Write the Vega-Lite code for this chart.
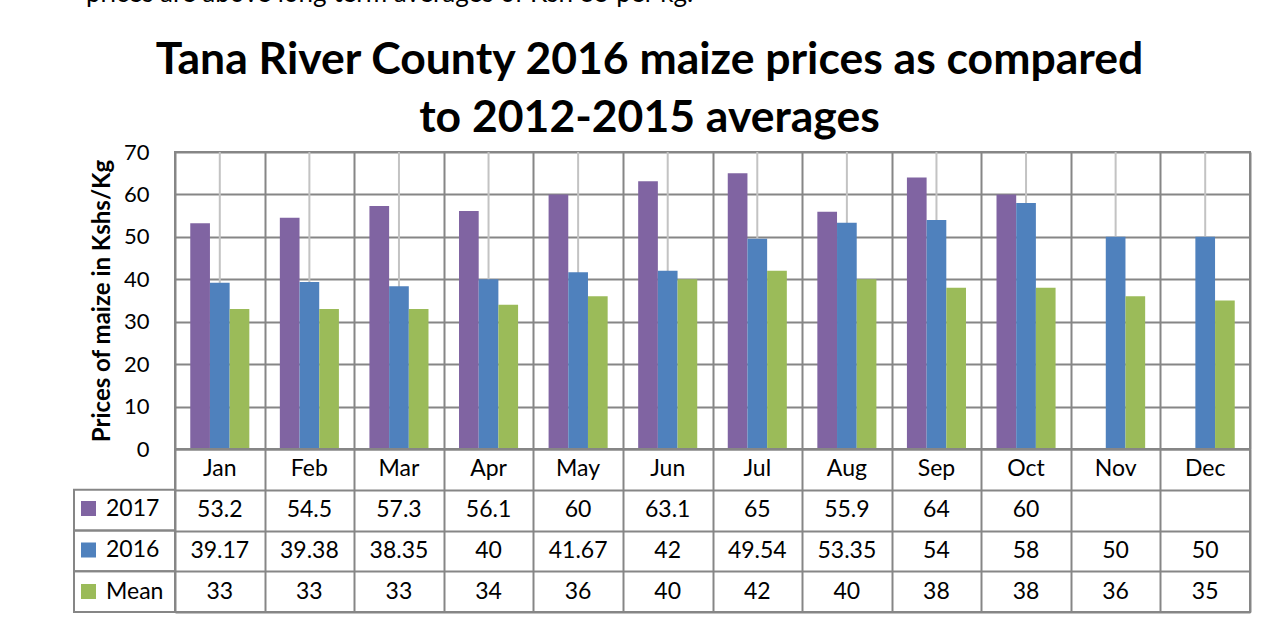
{
  "$schema": "https://vega.github.io/schema/vega-lite/v6.json",
  "background": "white",
  "padding": {"left": 73, "top": -20, "right": 5, "bottom": 5},
  "title": {"text": "prices are above long term averages of Ksh 35 per kg.", "anchor": "start", "frame": "group", "dx": 12, "font": "Lato", "fontSize": 26, "fontWeight": "normal", "color": "black", "offset": 30},
  "datasets": {
    "prices": [
      {"month": "Jan", "series": "2017", "value": 53.2},
      {"month": "Feb", "series": "2017", "value": 54.5},
      {"month": "Mar", "series": "2017", "value": 57.3},
      {"month": "Apr", "series": "2017", "value": 56.1},
      {"month": "May", "series": "2017", "value": 60},
      {"month": "Jun", "series": "2017", "value": 63.1},
      {"month": "Jul", "series": "2017", "value": 65},
      {"month": "Aug", "series": "2017", "value": 55.9},
      {"month": "Sep", "series": "2017", "value": 64},
      {"month": "Oct", "series": "2017", "value": 60},
      {"month": "Jan", "series": "2016", "value": 39.17},
      {"month": "Feb", "series": "2016", "value": 39.38},
      {"month": "Mar", "series": "2016", "value": 38.35},
      {"month": "Apr", "series": "2016", "value": 40},
      {"month": "May", "series": "2016", "value": 41.67},
      {"month": "Jun", "series": "2016", "value": 42},
      {"month": "Jul", "series": "2016", "value": 49.54},
      {"month": "Aug", "series": "2016", "value": 53.35},
      {"month": "Sep", "series": "2016", "value": 54},
      {"month": "Oct", "series": "2016", "value": 58},
      {"month": "Nov", "series": "2016", "value": 50},
      {"month": "Dec", "series": "2016", "value": 50},
      {"month": "Jan", "series": "Mean", "value": 33},
      {"month": "Feb", "series": "Mean", "value": 33},
      {"month": "Mar", "series": "Mean", "value": 33},
      {"month": "Apr", "series": "Mean", "value": 34},
      {"month": "May", "series": "Mean", "value": 36},
      {"month": "Jun", "series": "Mean", "value": 40},
      {"month": "Jul", "series": "Mean", "value": 42},
      {"month": "Aug", "series": "Mean", "value": 40},
      {"month": "Sep", "series": "Mean", "value": 38},
      {"month": "Oct", "series": "Mean", "value": 38},
      {"month": "Nov", "series": "Mean", "value": 36},
      {"month": "Dec", "series": "Mean", "value": 35}
    ]
  },
  "columns": 2,
  "spacing": 0,
  "bounds": "flush",
  "align": "each",
  "resolve": {"scale": {"color": "independent"}, "legend": {"color": "independent"}},
  "concat": [
    {
      "width": 101, "height": 297,
      "data": {"values": []},
      "mark": "point",
      "view": {"stroke": null}
    },
    {
      "width": 1075, "height": 297,
      "data": {"name": "prices"},
      "title": {"text": ["Tana River County 2016 maize prices as compared", "to 2012-2015 averages"], "anchor": "middle", "dx": -63, "font": "Lato", "fontSize": 44.5, "fontWeight": "bold", "color": "black", "lineHeight": 58, "offset": 0},
      "encoding": {
        "x": {"field": "month", "type": "nominal", "sort": ["Jan","Feb","Mar","Apr","May","Jun","Jul","Aug","Sep","Oct","Nov","Dec"],
          "scale": {"domain": ["Jan","Feb","Mar","Apr","May","Jun","Jul","Aug","Sep","Oct","Nov","Dec"], "paddingInner": 0, "paddingOuter": 0},
          "axis": {"title": null, "labels": false, "ticks": false, "domain": false, "grid": true, "tickBand": "extent", "gridColor": "#868686", "gridWidth": 2, "gridOpacity": 1}}
      },
      "layer": [
        {
          "transform": [{"filter": "datum.series == 'Mean'"}],
          "mark": {"type": "rule", "color": "#c3c3c3", "strokeWidth": 2},
          "encoding": {}
        },
        {
          "mark": {"type": "bar"},
          "encoding": {
            "xOffset": {"field": "series", "type": "nominal", "sort": ["2017","2016","Mean"], "scale": {"domain": ["2017","2016","Mean"], "paddingInner": 0, "paddingOuter": 0.775}},
            "y": {"field": "value", "type": "quantitative", "scale": {"domain": [0, 70]},
              "axis": {"title": "Prices of maize in Kshs/Kg", "titleFont": "Lato", "titleFontSize": 24, "titleFontWeight": "bold", "titleColor": "black", "titlePadding": 9,
                "values": [0,10,20,30,40,50,60,70], "labelFont": "Lato", "labelFontSize": 22, "labelColor": "black", "labelPadding": 26,
                "ticks": false, "domain": false, "grid": true, "gridColor": "#868686", "gridWidth": 2, "gridOpacity": 1}},
            "color": {"field": "series", "type": "nominal", "sort": ["2017","2016","Mean"],
              "scale": {"domain": ["2017","2016","Mean"], "range": ["#8064A2", "#4F81BD", "#9BBB59"]},
              "legend": {"orient": "none", "legendX": -98, "legendY": 345, "title": null, "direction": "vertical", "symbolType": "square", "symbolSize": 225, "symbolStrokeWidth": 0, "symbolOpacity": 1,
                "labelFont": "Lato", "labelFontSize": 23, "labelColor": "black", "labelOffset": 6, "rowPadding": 17.5, "padding": 0}}
          }
        }
      ]
    },
    {
      "width": 101, "height": 163,
      "data": {"name": "prices"},
      "transform": [{"filter": "datum.month == 'Jan'"}],
      "view": {"stroke": null},
      "mark": {"type": "rect", "fillOpacity": 0, "stroke": "#868686", "strokeWidth": 2},
      "encoding": {
        "y": {"field": "series", "type": "nominal", "scale": {"domain": ["Month","2017","2016","Mean"], "paddingInner": 0, "paddingOuter": 0}, "axis": null}
      }
    },
    {
      "width": 1075, "height": 163,
      "data": {"name": "prices"},
      "encoding": {
        "x": {"field": "month", "type": "nominal",
          "scale": {"domain": ["Jan","Feb","Mar","Apr","May","Jun","Jul","Aug","Sep","Oct","Nov","Dec"], "paddingInner": 0, "paddingOuter": 0},
          "axis": {"orient": "top", "title": null, "labels": false, "ticks": false, "domain": false, "grid": true, "tickBand": "extent", "gridColor": "#868686", "gridWidth": 2, "gridOpacity": 1}}
      },
      "layer": [
        {
          "transform": [{"filter": "datum.series == '2016'"}],
          "mark": {"type": "text", "font": "Lato", "fontSize": 23, "color": "black"},
          "encoding": {
            "y": {"datum": "Month", "type": "nominal", "scale": {"domain": ["Month","2017","2016","Mean"], "paddingInner": 0, "paddingOuter": 0},
              "axis": {"title": null, "labels": false, "ticks": false, "domain": false, "grid": true, "tickBand": "extent", "gridColor": "#868686", "gridWidth": 2, "gridOpacity": 1}},
            "text": {"field": "month"}
          }
        },
        {
          "mark": {"type": "text", "font": "Lato", "fontSize": 23, "color": "black"},
          "encoding": {
            "y": {"field": "series", "type": "nominal", "scale": {"domain": ["Month","2017","2016","Mean"], "paddingInner": 0, "paddingOuter": 0},
              "axis": {"title": null, "labels": false, "ticks": false, "domain": false, "grid": true, "tickBand": "extent", "gridColor": "#868686", "gridWidth": 2, "gridOpacity": 1}},
            "text": {"field": "value", "type": "nominal"}
          }
        }
      ]
    }
  ],
  "config": {
    "view": {"stroke": "#868686", "strokeWidth": 2},
    "font": "Lato"
  }
}
